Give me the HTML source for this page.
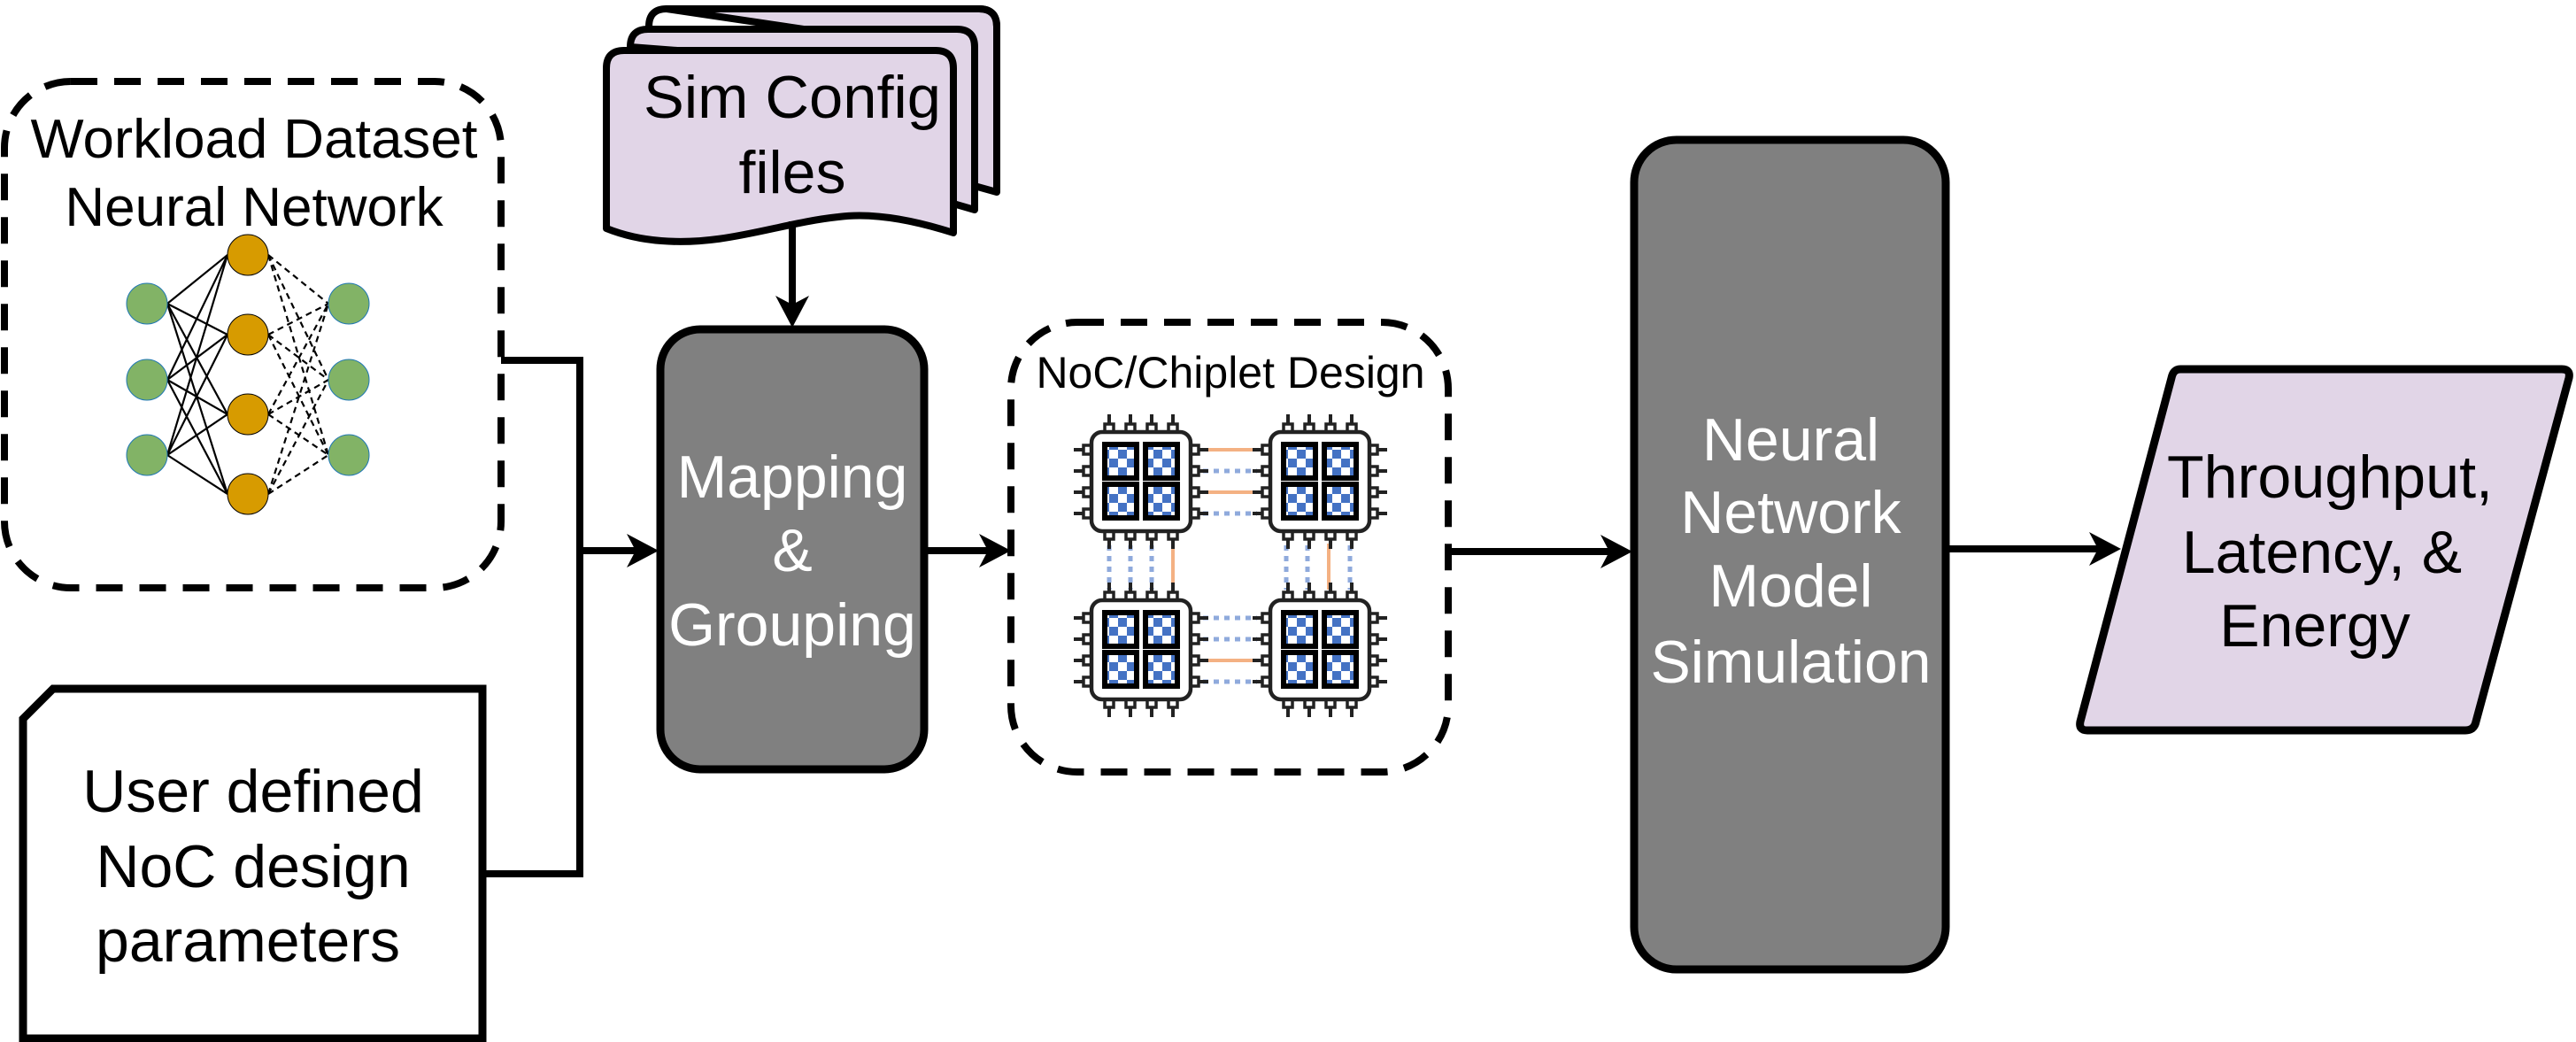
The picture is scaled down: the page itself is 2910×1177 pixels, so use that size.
<!DOCTYPE html>
<html><head><meta charset="utf-8">
<style>
html,body{margin:0;padding:0;background:#fff;}
svg{display:block;}
text{font-family:"Liberation Sans",Arial,sans-serif;}
</style></head>
<body>
<svg width="2910" height="1177" viewBox="0 0 2910 1177" xmlns="http://www.w3.org/2000/svg">
<defs>
  <pattern id="chk" x="0" y="0" width="20" height="20" patternUnits="userSpaceOnUse">
    <rect width="20" height="20" fill="#fff"/>
    <rect x="10" y="0" width="10" height="10" fill="#4472c4"/>
    <rect x="0" y="10" width="10" height="10" fill="#4472c4"/>
  </pattern>
  <g id="pinT"><line x1="0" y1="-20" x2="0" y2="-8" stroke="#222" stroke-width="4"/><rect x="-5" y="-9" width="10" height="9" fill="#fff" stroke="#222" stroke-width="3.5"/></g>
  <g id="chip">
    <use href="#pinT" x="20" y="0"/><use href="#pinT" x="44" y="0"/><use href="#pinT" x="68" y="0"/><use href="#pinT" x="92" y="0"/>
    <g transform="translate(0,112) scale(1,-1)"><use href="#pinT" x="20"/><use href="#pinT" x="44"/><use href="#pinT" x="68"/><use href="#pinT" x="92"/></g>
    <g transform="rotate(-90) translate(-112,0)"><use href="#pinT" x="20"/><use href="#pinT" x="44"/><use href="#pinT" x="68"/><use href="#pinT" x="92"/></g>
    <g transform="translate(112,0) rotate(90)"><use href="#pinT" x="20"/><use href="#pinT" x="44"/><use href="#pinT" x="68"/><use href="#pinT" x="92"/></g>
    <rect x="0" y="0" width="112" height="112" rx="12" fill="#fff" stroke="#222" stroke-width="4.5"/>
    <rect x="15" y="14" width="36" height="38" fill="url(#chk)" stroke="#000" stroke-width="6"/>
    <rect x="61" y="14" width="36" height="38" fill="url(#chk)" stroke="#000" stroke-width="6"/>
    <rect x="15" y="59" width="36" height="38" fill="url(#chk)" stroke="#000" stroke-width="6"/>
    <rect x="61" y="59" width="36" height="38" fill="url(#chk)" stroke="#000" stroke-width="6"/>
  </g>
</defs>

<rect x="5" y="92" width="561" height="572" rx="75" fill="none" stroke="#000" stroke-width="8" stroke-dasharray="30 19"/>
<text x="287" y="178" font-size="62" text-anchor="middle" textLength="505" lengthAdjust="spacingAndGlyphs">Workload Dataset</text>
<text x="287" y="255" font-size="62" text-anchor="middle">Neural Network</text>

<g stroke="#000" stroke-width="2.2">
  <line x1="189" y1="343" x2="257" y2="288"/><line x1="189" y1="343" x2="257" y2="378"/><line x1="189" y1="343" x2="257" y2="468"/><line x1="189" y1="343" x2="257" y2="558"/>
  <line x1="189" y1="429" x2="257" y2="288"/><line x1="189" y1="429" x2="257" y2="378"/><line x1="189" y1="429" x2="257" y2="468"/><line x1="189" y1="429" x2="257" y2="558"/>
  <line x1="189" y1="514" x2="257" y2="288"/><line x1="189" y1="514" x2="257" y2="378"/><line x1="189" y1="514" x2="257" y2="468"/><line x1="189" y1="514" x2="257" y2="558"/>
</g>
<g stroke="#000" stroke-width="2.2" stroke-dasharray="7 5">
  <line x1="303" y1="288" x2="371" y2="343"/><line x1="303" y1="288" x2="371" y2="429"/><line x1="303" y1="288" x2="371" y2="514"/>
  <line x1="303" y1="378" x2="371" y2="343"/><line x1="303" y1="378" x2="371" y2="429"/><line x1="303" y1="378" x2="371" y2="514"/>
  <line x1="303" y1="468" x2="371" y2="343"/><line x1="303" y1="468" x2="371" y2="429"/><line x1="303" y1="468" x2="371" y2="514"/>
  <line x1="303" y1="558" x2="371" y2="343"/><line x1="303" y1="558" x2="371" y2="429"/><line x1="303" y1="558" x2="371" y2="514"/>
</g>
<g fill="#82b366" stroke="#1f77b4" stroke-width="1">
  <circle cx="166" cy="343" r="23"/><circle cx="166" cy="429" r="23"/><circle cx="166" cy="514" r="23"/>
  <circle cx="394" cy="343" r="23"/><circle cx="394" cy="429" r="23"/><circle cx="394" cy="514" r="23"/>
</g>
<g fill="#d79b00" stroke="#000" stroke-width="1">
  <circle cx="280" cy="288" r="23"/><circle cx="280" cy="378" r="23"/><circle cx="280" cy="468" r="23"/><circle cx="280" cy="558" r="23"/>
</g>

<path d="M60,778 H545 V1173 H26 V812 Z" fill="#fff" stroke="#000" stroke-width="9"/>
<text x="286" y="917" font-size="68" text-anchor="middle">User defined</text>
<text x="286" y="1002" font-size="68" text-anchor="middle">NoC design</text>
<text x="280" y="1086" font-size="68" text-anchor="middle">parameters</text>

<polyline points="566,407 655,407 655,987 545,987" fill="none" stroke="#000" stroke-width="8"/>
<line x1="651" y1="622" x2="720" y2="622" stroke="#000" stroke-width="8"/>
<polygon points="744,622 708,603 718,622 708,641" fill="#000"/>

<path d="M753,10 H1106 Q1126,10 1126,30 V217 L1090,207 L1090,60 Z" fill="#e1d5e7" stroke="#000" stroke-width="8" stroke-linejoin="round"/>
<path d="M733,30 Q733,10 753,10 H1106 Q1126,10 1126,30 V217" fill="none" stroke="#000" stroke-width="8"/>
<path d="M712,53 Q712,33 732,33 H1081 Q1101,33 1101,53 V237 L1070,228 L1070,80 Z" fill="#e1d5e7" stroke="#000" stroke-width="8" stroke-linejoin="round"/>
<path d="M685,77 Q685,57 705,57 H1057 Q1077,57 1077,77 V263 C1030,248 985,240 947,245 C880,252 820,278 747,272 C720,270 700,264 685,258 Z" fill="#e1d5e7" stroke="#000" stroke-width="8" stroke-linejoin="round"/>
<text x="895" y="133" font-size="68" text-anchor="middle" textLength="336" lengthAdjust="spacingAndGlyphs">Sim Config</text>
<text x="895" y="218" font-size="68" text-anchor="middle">files</text>
<line x1="895" y1="250" x2="895" y2="345" stroke="#000" stroke-width="8"/>
<polygon points="895,370 876,334 895,344 914,334" fill="#000"/>

<rect x="746" y="372" width="298" height="497" rx="45" fill="#808080" stroke="#000" stroke-width="9"/>
<text x="895" y="562" font-size="68" fill="#fff" text-anchor="middle">Mapping</text>
<text x="895" y="645" font-size="68" fill="#fff" text-anchor="middle">&amp;</text>
<text x="895" y="729" font-size="68" fill="#fff" text-anchor="middle">Grouping</text>
<line x1="1044" y1="622" x2="1118" y2="622" stroke="#000" stroke-width="8"/>
<polygon points="1142,622 1106,603 1116,622 1106,641" fill="#000"/>

<rect x="1142" y="364" width="494" height="508" rx="75" fill="none" stroke="#000" stroke-width="8" stroke-dasharray="30 19"/>
<text x="1390" y="438" font-size="50" text-anchor="middle">NoC/Chiplet Design</text>

<g stroke="#f4b183" stroke-width="4">
  <line x1="1357" y1="508" x2="1420" y2="508"/><line x1="1357" y1="556" x2="1420" y2="556"/>
  <line x1="1357" y1="746" x2="1420" y2="746"/>
  <line x1="1325" y1="614" x2="1325" y2="666"/><line x1="1501" y1="614" x2="1501" y2="666"/>
</g>
<g stroke="#8faadc" stroke-width="5" stroke-dasharray="6 6">
  <line x1="1359" y1="532" x2="1420" y2="532"/><line x1="1359" y1="580" x2="1420" y2="580"/>
  <line x1="1359" y1="698" x2="1420" y2="698"/><line x1="1359" y1="722" x2="1420" y2="722"/><line x1="1359" y1="770" x2="1420" y2="770"/>
  <line x1="1253" y1="616" x2="1253" y2="666"/><line x1="1277" y1="616" x2="1277" y2="666"/><line x1="1301" y1="616" x2="1301" y2="666"/>
  <line x1="1453" y1="616" x2="1453" y2="666"/><line x1="1477" y1="616" x2="1477" y2="666"/><line x1="1525" y1="616" x2="1525" y2="666"/>
</g>
<use href="#chip" x="1233" y="488"/>
<use href="#chip" x="1435" y="488"/>
<use href="#chip" x="1233" y="678"/>
<use href="#chip" x="1435" y="678"/>

<line x1="1636" y1="623" x2="1820" y2="623" stroke="#000" stroke-width="8"/>
<polygon points="1844,623 1808,604 1818,623 1808,642" fill="#000"/>

<rect x="1846" y="158" width="352" height="937" rx="48" fill="#808080" stroke="#000" stroke-width="9"/>
<text x="2023" y="520" font-size="68" fill="#fff" text-anchor="middle">Neural</text>
<text x="2023" y="602" font-size="68" fill="#fff" text-anchor="middle">Network</text>
<text x="2023" y="685" font-size="68" fill="#fff" text-anchor="middle">Model</text>
<text x="2023" y="771" font-size="68" fill="#fff" text-anchor="middle" textLength="317" lengthAdjust="spacingAndGlyphs">Simulation</text>

<line x1="2198" y1="620" x2="2372" y2="620" stroke="#000" stroke-width="8"/>
<polygon points="2396,620 2360,601 2370,620 2360,639" fill="#000"/>

<path d="M2463,417 H2894 Q2904,417 2902,427 L2797,815 Q2795,825 2785,825 H2358 Q2348,825 2350,815 L2453,427 Q2455,417 2463,417 Z" fill="#e1d5e7" stroke="#000" stroke-width="9" stroke-linejoin="round"/>
<text x="2632" y="562" font-size="68" text-anchor="middle" textLength="368" lengthAdjust="spacingAndGlyphs">Throughput,</text>
<text x="2623" y="647" font-size="68" text-anchor="middle">Latency, &amp;</text>
<text x="2615" y="730" font-size="68" text-anchor="middle">Energy</text>
</svg>
</body></html>
